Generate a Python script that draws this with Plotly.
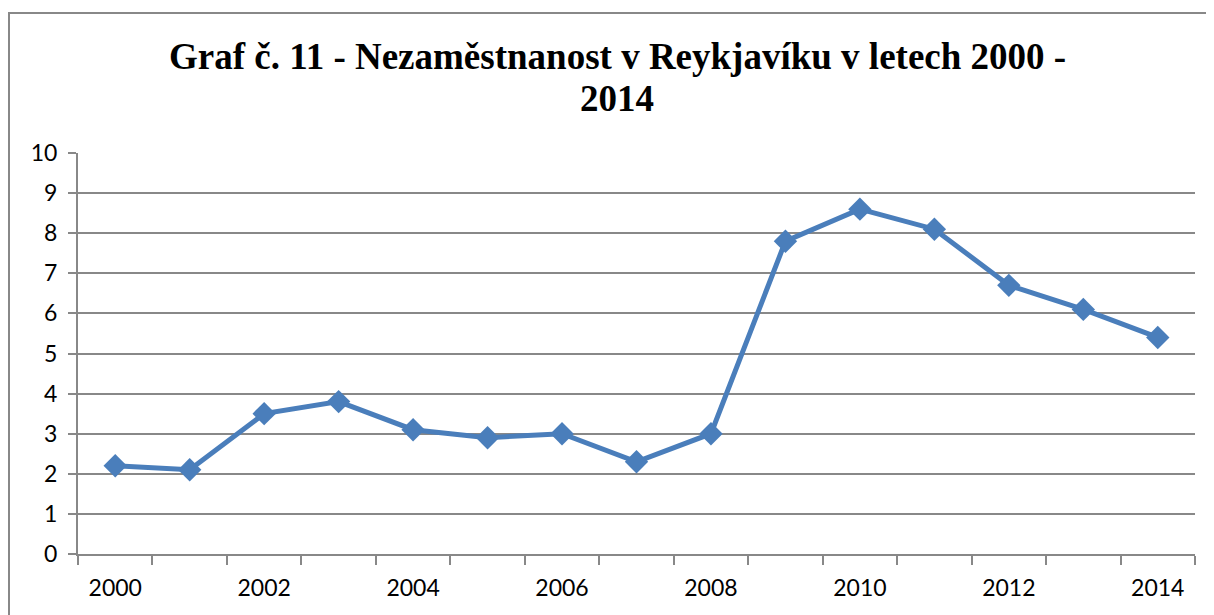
import plotly.graph_objects as go

years = list(range(2000, 2015))
unemployment = [2.2, 2.1, 3.5, 3.8, 3.1, 2.9, 3.0, 2.3, 3.0, 7.8, 8.6, 8.1, 6.7, 6.1, 5.4]
label_years = [2000, 2002, 2004, 2006, 2008, 2010, 2012, 2014]
y_ticks = list(range(0, 11))
title_line1 = "Graf č. 11 - Nezaměstnanost v Reykjavíku v letech 2000 -"
title_line2 = "2014"

# page body adds an 8px margin; work in reference-screen pixels and shift
OFF = 8
W, H = 1214 - OFF, 615 - OFF
L, R, T, B = 78 - OFF, 19, 153 - OFF, 61
pw, ph = W - L - R, H - T - B

def px_x(x):
    return (x - OFF - L) / pw

def px_y(y):
    return 1 - (y - OFF - T) / ph

fig = go.Figure()
fig.add_trace(go.Scatter(
    x=years, y=unemployment, mode="lines+markers",
    line=dict(color="#4a7ebb", width=5),
    marker=dict(symbol="diamond", size=18, color="#4a7ebb"),
    showlegend=False, hoverinfo="x+y",
))

grey = "#888888"
fig.update_layout(
    template="none",
    width=W, height=H,
    margin=dict(l=L, r=R, t=T, b=B, pad=0, autoexpand=False),
    paper_bgcolor="white", plot_bgcolor="white",
    font=dict(family="Lato, 'Open Sans', sans-serif", size=23, color="#000000"),
    xaxis=dict(
        automargin=False,
        range=[years[0] - 0.5, years[-1] + 0.5],
        tickmode="array", tickvals=label_years, ticktext=[str(y) for y in label_years],
        ticks="", showgrid=False, zeroline=False,
        showline=True, linecolor=grey, linewidth=2,
        ticklabelstandoff=12,
        minor=dict(tickmode="array",
                   tickvals=[y - 0.5 for y in years] + [years[-1] + 0.5],
                   ticks="outside", ticklen=9, tickcolor=grey, tickwidth=2, showgrid=False),
    ),
    yaxis=dict(
        automargin=False,
        range=[0, 10], tickmode="array", tickvals=y_ticks,
        ticks="outside", ticklen=8, tickcolor=grey, tickwidth=2,
        showgrid=True, gridcolor=grey, gridwidth=2,
        zeroline=False, showline=True, linecolor=grey, linewidth=2,
        ticklabelstandoff=6,
    ),
    annotations=[
        dict(text="<b>" + title_line1 + "</b>",
             x=px_x(617), y=px_y(56), xref="paper", yref="paper",
             xanchor="center", yanchor="middle", showarrow=False,
             font=dict(family="'Liberation Serif', 'Times New Roman', serif", size=37, color="black")),
        dict(text="<b>" + title_line2 + "</b>",
             x=px_x(617), y=px_y(99), xref="paper", yref="paper",
             xanchor="center", yanchor="middle", showarrow=False,
             font=dict(family="'Liberation Serif', 'Times New Roman', serif", size=37, color="black")),
    ],
    shapes=[
        dict(type="line", xref="paper", yref="paper",
             x0=px_x(8), x1=px_x(1214), y0=px_y(13), y1=px_y(13),
             line=dict(color=grey, width=2)),
        dict(type="line", xref="paper", yref="paper",
             x0=px_x(9), x1=px_x(9), y0=px_y(13), y1=px_y(615),
             line=dict(color=grey, width=2)),
    ],
)

fig.write_html("out.html")
